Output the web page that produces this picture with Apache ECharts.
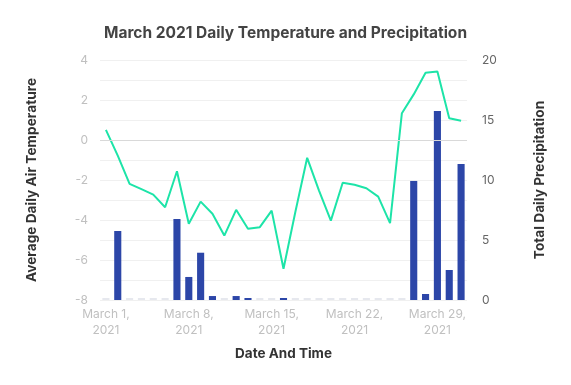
<!DOCTYPE html>
<html><head><meta charset="utf-8">
<script src="https://cdn.jsdelivr.net/npm/echarts@6/dist/echarts.min.js"></script>
<style>html,body{margin:0;padding:0;background:#fff}#c{width:571px;height:385px}</style>
</head><body><div id="c"></div>
<script>
const days = Array.from({length:31},(_,i)=>'March '+(i+1)+',\n2021');
const temperature = [0.51,-0.78,-2.19,-2.46,-2.73,-3.36,-1.56,-4.19,-3.08,-3.69,-4.78,-3.49,-4.44,-4.36,-3.53,-6.44,-3.6,-0.89,-2.53,-4.03,-2.14,-2.24,-2.41,-2.83,-4.16,1.34,2.28,3.36,3.43,1.09,0.96];
const precipitation = [0,5.75,0,0,0,0,6.75,1.92,3.94,0.33,0,0.33,0.15,0,0,0.15,0,0,0,0,0,0,0,0,0,0,9.92,0.5,15.75,2.5,11.33];
const leftTicks = [-8,-6,-4,-2,0,2,4];
const rightTicks = [0,5,10,15,20];
const FONT = 'Inter';
const chart = echarts.init(document.getElementById('c'));
chart.setOption({
  animation:false,
  textStyle:{fontFamily:FONT},
  title:{text:'March 2021 Daily Temperature and Precipitation',left:'center',top:20,
    textStyle:{fontFamily:FONT,fontSize:15.5,fontWeight:'bold',color:'#444'}},
  grid:{left:100,right:104,top:60,bottom:85},
  xAxis:{type:'category',data:days,
    name:'Date And Time',nameLocation:'middle',nameGap:47,
    nameTextStyle:{fontFamily:FONT,fontSize:13.5,fontWeight:'bold',color:'#333'},
    axisLine:{show:false},axisTick:{show:false},
    axisLabel:{interval:6,color:'#c0c0c0',fontSize:12,lineHeight:16,margin:6,fontFamily:FONT}},
  yAxis:[{type:'value',min:-8,max:4,interval:1,
    name:'Average Daily Air Temperature',nameLocation:'middle',nameGap:61,
    nameTextStyle:{fontFamily:FONT,fontSize:13.7,fontWeight:'bold',color:'#333'},
    axisLine:{show:false},axisTick:{show:false},
    axisLabel:{color:'#c0c0c0',fontSize:12,margin:12,fontFamily:FONT,
      formatter:v=>leftTicks.includes(v)?String(v):''},
    splitLine:{lineStyle:{color:'#f0f0f0',width:1}}},
   {type:'value',min:0,max:20,interval:5,position:'right',
    name:'Total Daily Precipitation',nameLocation:'middle',nameGap:66,
    nameTextStyle:{fontFamily:FONT,fontSize:13.7,fontWeight:'bold',color:'#333'},
    axisLine:{show:false},axisTick:{show:false},
    axisLabel:{color:'#666',fontSize:12,margin:15,fontFamily:FONT,
      formatter:v=>rightTicks.includes(v)?String(v):''},
    splitLine:{show:false}}],
  series:[
   {type:'bar',yAxisIndex:1,data:precipitation,barWidth:'60%',barMinHeight:2,
    itemStyle:{color:p=>p.value===0?'#e6e8ee':'#2c46a8'},z:2},
   {type:'line',yAxisIndex:0,data:temperature,symbol:'none',
    lineStyle:{color:'#1de4a8',width:2},z:3,
    markLine:{silent:true,symbol:'none',label:{show:false},
      lineStyle:{color:'#d9d9d9',type:'solid',width:1},data:[{yAxis:0}]}}
  ]
});
</script></body></html>
